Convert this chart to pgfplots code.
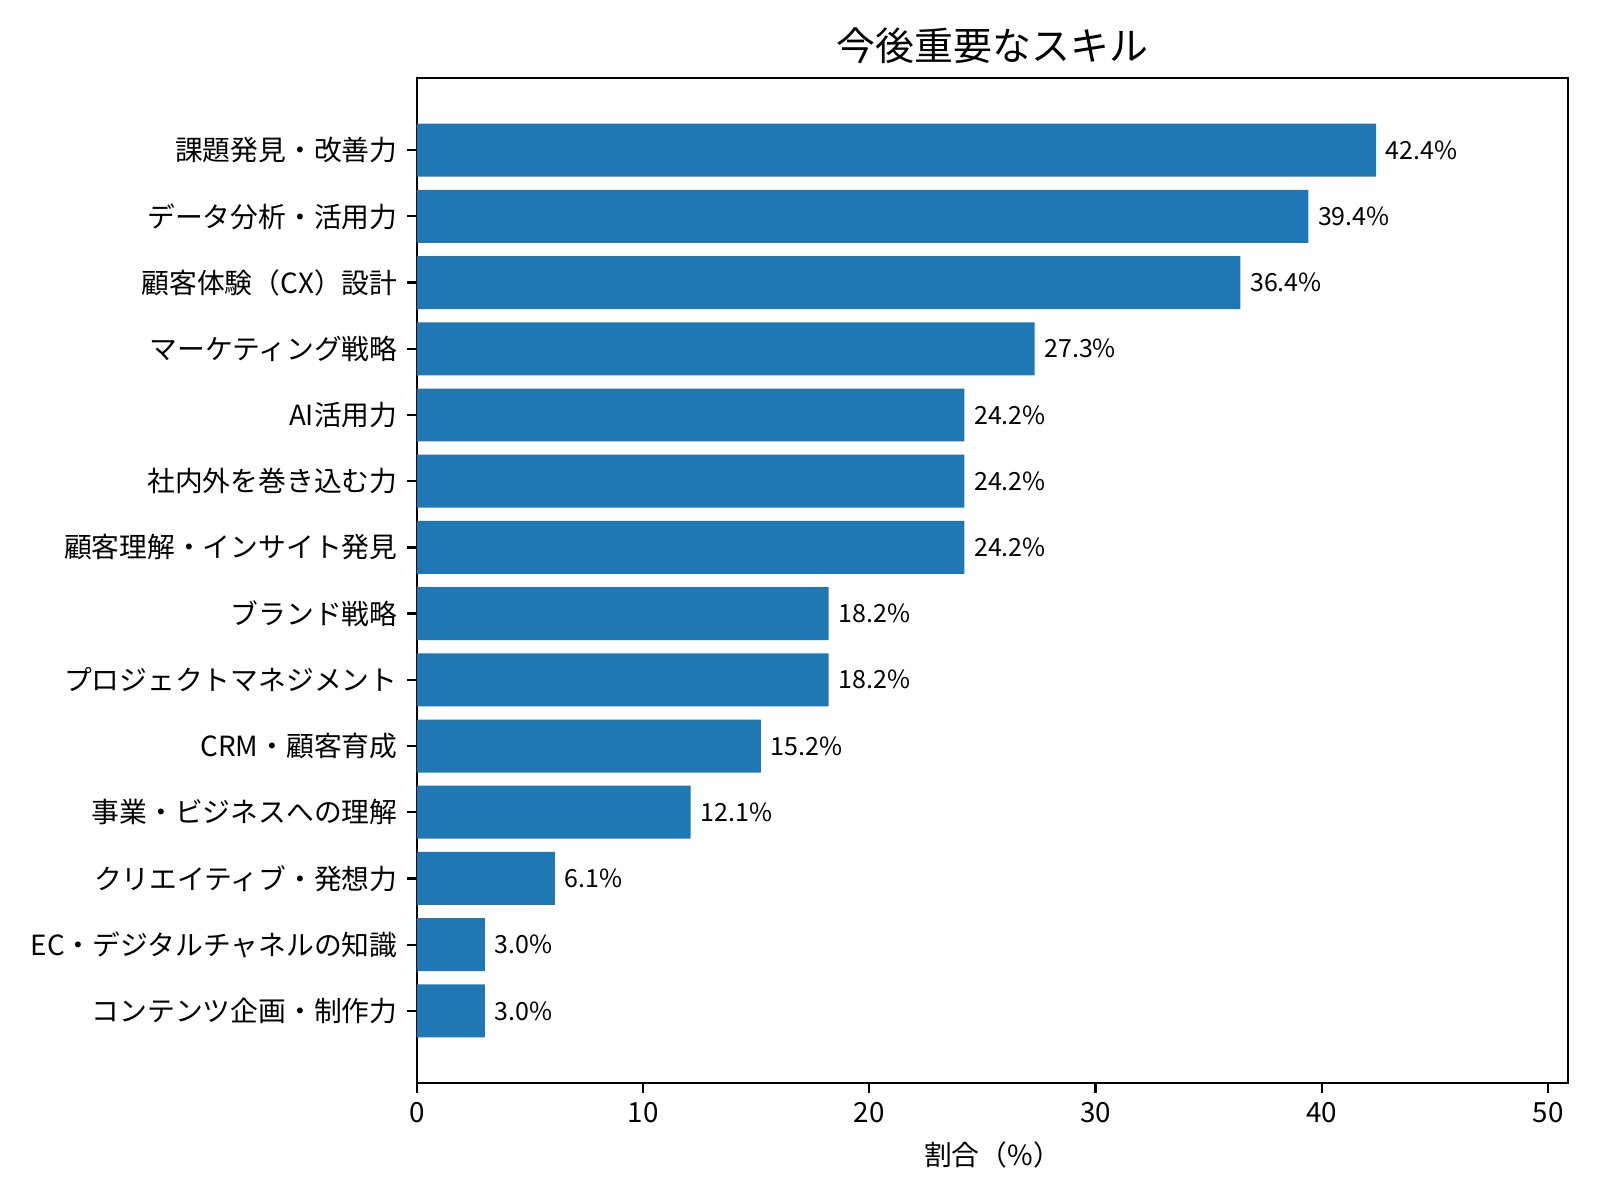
\documentclass[border=0pt]{standalone}
\usepackage{pgfplots}
\pgfplotsset{compat=1.18}
\usepackage{fontspec}
\setmainfont{Noto Sans CJK JP}
\definecolor{barblue}{HTML}{1F77B4}
\begin{document}
\begin{tikzpicture}
\useasboundingbox (-150.1pt,-42.12pt) rectangle (425.9pt,389.88pt);
\begin{axis}[
  at={(0,0)}, anchor=south west,
  scale only axis, width=414.36pt, height=361.8pt,
  xbar, bar width=0.8,
  xmin=0, xmax=50.88, ymin=-1.09, ymax=14.09,
  enlargelimits=false,
  /pgf/number format/assume math mode=true,
  xtick={0,10,20,30,40,50},
  ytick={0,...,13},
  yticklabels={コンテンツ企画・制作力, EC・デジタルチャネルの知識, クリエイティブ・発想力, 事業・ビジネスへの理解, CRM・顧客育成, プロジェクトマネジメント, ブランド戦略, 顧客理解・インサイト発見, 社内外を巻き込む力, AI活用力, マーケティング戦略, 顧客体験（CX）設計, データ分析・活用力, 課題発見・改善力},
  tick align=outside, xtick pos=bottom, ytick pos=left,
  major tick length=3.5pt,
  every tick/.style={black, line width=0.8pt},
  axis line style={line width=0.8pt},
  tick label style={font=\fontsize{10}{12}\selectfont},
  title={今後重要なスキル},
  title style={font=\fontsize{14}{17}\selectfont, yshift=-4.5pt},
  xlabel={割合（\%）},
  xlabel style={font=\fontsize{10}{12}\selectfont},
  point meta=x,
  nodes near coords={\pgfmathprintnumber[fixed,fixed zerofill,precision=1]{\pgfplotspointmeta}\%},
  nodes near coords style={font=\fontsize{9}{11}\selectfont, anchor=west, black},
]
\addplot[fill=barblue, draw=none] coordinates {
  (3.0,0) (3.0,1) (6.1,2) (12.1,3) (15.2,4) (18.2,5) (18.2,6)
  (24.2,7) (24.2,8) (24.2,9) (27.3,10) (36.4,11) (39.4,12) (42.4,13)
};
\end{axis}
\end{tikzpicture}
\end{document}
